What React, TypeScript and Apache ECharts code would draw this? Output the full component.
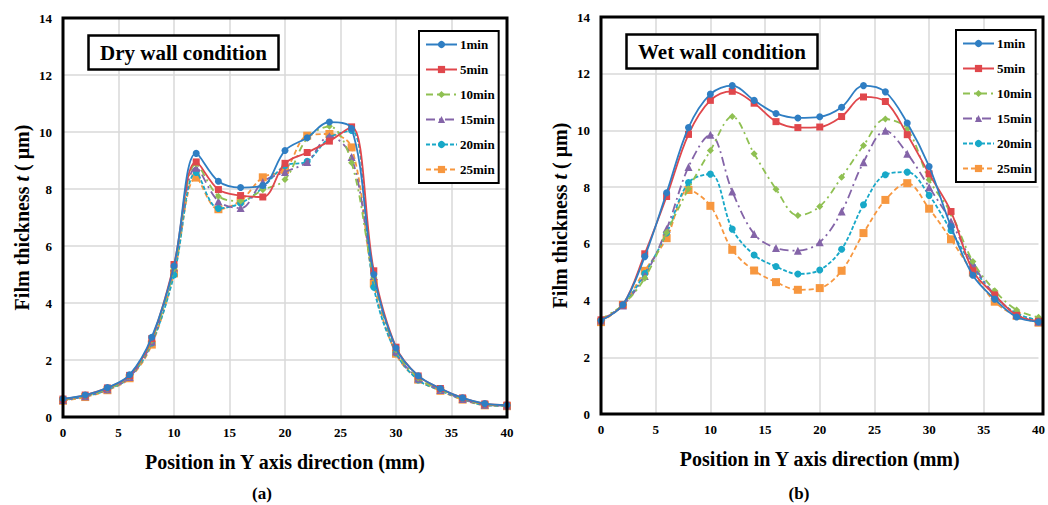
import React, { useEffect, useRef } from "react";
import * as echarts from "echarts";

const positions = [0, 2, 4, 6, 8, 10, 12, 14, 16, 18, 20, 22, 24, 26, 28, 30, 32, 34, 36, 38, 40];
const seriesNames = ["1min", "5min", "10min", "15min", "20min", "25min"];

// Dry wall condition
const dry1 = [0.64, 0.77, 1.03, 1.48, 2.8, 5.3, 9.25, 8.27, 8.05, 8.12, 9.35, 9.8, 10.35, 10.12, 5.0, 2.42, 1.45, 1.0, 0.67, 0.47, 0.42];
const dry5 = [0.63, 0.77, 1.02, 1.46, 2.75, 5.35, 8.95, 7.98, 7.77, 7.72, 8.9, 9.28, 9.68, 10.18, 5.13, 2.45, 1.44, 1.0, 0.67, 0.46, 0.42];
const dry10 = [0.6, 0.74, 0.98, 1.42, 2.68, 5.2, 8.88, 7.75, 7.58, 7.97, 8.33, 9.78, 10.2, 8.92, 4.9, 2.35, 1.37, 0.96, 0.64, 0.44, 0.4];
const dry15 = [0.6, 0.73, 0.97, 1.4, 2.65, 5.25, 8.75, 7.57, 7.33, 8.25, 8.6, 8.95, 9.85, 9.12, 4.95, 2.3, 1.35, 0.95, 0.63, 0.43, 0.4];
const dry20 = [0.59, 0.72, 0.96, 1.39, 2.6, 4.98, 8.58, 7.32, 7.5, 8.05, 8.82, 8.97, 9.8, 10.05, 4.55, 2.25, 1.3, 0.93, 0.62, 0.42, 0.39];
const dry25 = [0.57, 0.7, 0.94, 1.36, 2.54, 5.04, 8.4, 7.29, 7.59, 8.41, 8.67, 9.87, 9.93, 9.46, 4.69, 2.22, 1.31, 0.92, 0.61, 0.41, 0.38];

// Wet wall condition
const wet1 = [3.3, 3.85, 5.55, 7.8, 10.1, 11.28, 11.58, 11.06, 10.6, 10.44, 10.48, 10.82, 11.58, 11.36, 10.26, 8.73, 6.61, 4.89, 4.05, 3.42, 3.25];
const wet5 = [3.32, 3.85, 5.65, 7.67, 9.86, 11.06, 11.38, 10.96, 10.31, 10.1, 10.12, 10.49, 11.18, 11.02, 9.85, 8.47, 7.14, 5.05, 4.2, 3.48, 3.27];
const wet10 = [3.35, 3.85, 4.79, 6.4, 7.94, 9.29, 10.49, 9.18, 7.93, 7.0, 7.32, 8.35, 9.47, 10.4, 10.05, 8.26, 7.08, 5.38, 4.35, 3.67, 3.41];
const wet15 = [3.3, 3.83, 4.87, 6.52, 8.71, 9.85, 7.85, 6.35, 5.85, 5.76, 6.06, 7.14, 8.88, 9.99, 9.18, 8.0, 6.79, 5.3, 4.2, 3.5, 3.25];
const wet20 = [3.3, 3.85, 4.95, 6.38, 8.16, 8.46, 6.52, 5.61, 5.2, 4.94, 5.08, 5.81, 7.38, 8.44, 8.53, 7.71, 6.47, 5.2, 4.16, 3.55, 3.3];
const wet25 = [3.24, 3.85, 5.05, 6.2, 7.9, 7.34, 5.79, 5.06, 4.65, 4.38, 4.44, 5.05, 6.38, 7.55, 8.14, 7.24, 6.16, 4.99, 3.96, 3.46, 3.22];

const xTicks = { min: 0, max: 40, interval: 5 };
const yTicks = { min: 0, max: 14, interval: 2 };

const FONT = "Liberation Serif";

const grids = [
  { left: 63, top: 18, width: 444, height: 399 },
  { left: 601, top: 17, width: 442, height: 397 },
];

const styles = [
  { color: "#2f7ec3", symbol: "circle", size: 7, dash: "solid" as any },
  { color: "#e0474c", symbol: "rect", size: 7, dash: "solid" as any },
  { color: "#8fc052", symbol: "diamond", size: 7, dash: [7, 4, 2, 4] },
  { color: "#8464a8", symbol: "triangle", size: 8, dash: [9, 4, 2, 4] },
  { color: "#18a8c8", symbol: "circle", size: 7, dash: [4, 2] },
  { color: "#f7973f", symbol: "rect", size: 8, dash: [5, 3] },
];

function makeSeries(sets: number[][], gridIndex: number) {
  return sets.map((vals, i) => ({
    name: seriesNames[i],
    type: "line",
    xAxisIndex: gridIndex,
    yAxisIndex: gridIndex,
    smooth: 0.35,
    symbol: styles[i].symbol,
    symbolSize: styles[i].size,
    data: positions.map((p, j) => [p, vals[j]]),
    lineStyle: { color: styles[i].color, width: 1.8, type: styles[i].dash },
    itemStyle: { color: styles[i].color },
    z: 10 - i,
  }));
}

const lbl = { fontFamily: FONT, fontWeight: "bold", fontSize: 13, color: "#000" };

function xAxisFor(gridIndex: number) {
  return {
    type: "value",
    gridIndex,
    ...xTicks,
    axisLine: { show: false },
    axisTick: { show: false },
    axisLabel: { ...lbl, margin: 9 },
    splitLine: { show: true, showMinLine: false, showMaxLine: false, lineStyle: { color: "#d9d9d9", width: 1.5 } },
    name: "Position in Y axis direction (mm)",
    nameLocation: "middle",
    nameGap: 35,
    nameTextStyle: { fontFamily: FONT, fontWeight: "bold", fontSize: 20, color: "#000" },
  };
}

function yAxisFor(gridIndex: number) {
  return {
    type: "value",
    gridIndex,
    ...yTicks,
    axisLine: { show: false },
    axisTick: { show: false },
    axisLabel: { ...lbl, margin: 11 },
    splitLine: { show: true, showMinLine: false, showMaxLine: false, lineStyle: { color: "#d9d9d9", width: 1.5 } },
    name: "{a|Film thickness }{i|t}{a| ( μm)}",
    nameLocation: "middle",
    nameGap: 31,
    nameTextStyle: {
      fontFamily: FONT,
      fontWeight: "bold",
      fontSize: 20,
      color: "#000",
      rich: {
        a: { fontFamily: FONT, fontWeight: "bold", fontSize: 20, color: "#000" },
        i: { fontFamily: FONT, fontWeight: "bold", fontStyle: "italic", fontSize: 20, color: "#000" },
      },
    },
  };
}

function legendAt(left: number, top: number) {
  return {
    data: seriesNames,
    orient: "vertical",
    left,
    top,
    itemWidth: 31,
    itemHeight: 9,
    itemGap: 12,
    padding: [7, 4, 7, 6],
    borderColor: "#000",
    borderWidth: 2,
    backgroundColor: "#fff",
    textStyle: { fontFamily: FONT, fontWeight: "bold", fontSize: 13, color: "#000", padding: [0, 0, 0, -2] },
  };
}

function boxTitle(text: string, left: number, top: number) {
  return {
    text,
    left,
    top,
    padding: [7, 12, 6, 12],
    borderColor: "#000",
    borderWidth: 2.5,
    backgroundColor: "#fff",
    textStyle: { fontFamily: FONT, fontWeight: "bold", fontSize: 21, lineHeight: 22, color: "#000" },
  };
}

function frameRect(g: { left: number; top: number; width: number; height: number }) {
  return {
    type: "rect",
    shape: { x: g.left, y: g.top, width: g.width, height: g.height },
    style: { fill: "none", stroke: "#000", lineWidth: 3 },
    silent: true,
    z: 100,
  };
}

export default function App() {
  const ref = useRef<HTMLDivElement>(null);
  useEffect(() => {
    if (!ref.current) return;
    const chart = echarts.init(ref.current, null, { renderer: "svg" });
    chart.setOption({
      animation: false,
      backgroundColor: "#fff",
      textStyle: { fontFamily: FONT },
      grid: grids,
      xAxis: [xAxisFor(0), xAxisFor(1)],
      yAxis: [yAxisFor(0), yAxisFor(1)],
      legend: [legendAt(419, 31), legendAt(956, 30)],
      title: [
        boxTitle("Dry wall condition", 88, 35),
        boxTitle("Wet wall condition", 626, 34),
      ],
      graphic: [
        frameRect(grids[0]),
        frameRect(grids[1]),
        {
          type: "text",
          x: 262,
          y: 493,
          style: { text: "(a)", fontFamily: FONT, fontWeight: "bold", fontSize: 17, fill: "#000", align: "center", verticalAlign: "middle" },
        },
        {
          type: "text",
          x: 799,
          y: 493,
          style: { text: "(b)", fontFamily: FONT, fontWeight: "bold", fontSize: 17, fill: "#000", align: "center", verticalAlign: "middle" },
        },
      ],
      series: [
        ...makeSeries([dry1, dry5, dry10, dry15, dry20, dry25], 0),
        ...makeSeries([wet1, wet5, wet10, wet15, wet20, wet25], 1),
      ],
    });
    return () => chart.dispose();
  }, []);
  return (
    <div
      ref={ref}
      style={{ position: "absolute", left: 0, top: 0, width: 1048, height: 505, background: "#fff" }}
    />
  );
}
